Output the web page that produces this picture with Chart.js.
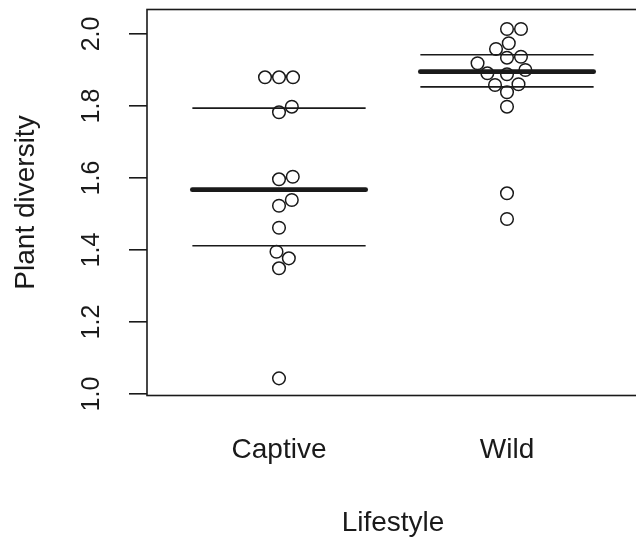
<!DOCTYPE html>
<html>
<head>
<meta charset="utf-8">
<title>Plant diversity by lifestyle</title>
<script src="https://cdn.jsdelivr.net/npm/chart.js@4/dist/chart.umd.min.js"></script>
<style>
  html, body { margin: 0; padding: 0; background: #fff; overflow: hidden; }
  #clip { width: 636px; height: 541px; overflow: hidden; }
  #wrap { width: 640px; height: 541px; }
</style>
</head>
<body>
<div id="clip"><div id="wrap"><canvas id="stripChart" width="640" height="541"></canvas></div></div>
<script>
var groups = ['Captive', 'Wild'];
// values in recorded order (the swarm places them in this order)
var captive = [1.0436, 1.3492, 1.3769, 1.3953, 1.4619, 1.5231, 1.5389, 1.5964, 1.6036, 1.7825, 1.7981, 1.8797, 1.8797, 1.8797];
var wild = [1.8881, 1.9342, 1.7981, 1.8381, 1.5575, 1.4861, 1.8603, 1.8583, 1.8908, 1.9369, 1.9000, 1.9186, 1.9583, 1.9742, 2.0139, 2.0139];
var yTicks = [1.0, 1.2, 1.4, 1.6, 1.8, 2.0];
var yTickLabels = ['1.0', '1.2', '1.4', '1.6', '1.8', '2.0'];

var FONT = '"Liberation Sans", Arial, Helvetica, sans-serif';
var INK = '#1a1a1a';
var HALF = 0.38; // half width of the median / quartile bars

// R's default quantile (type 7)
function quantile(vals, p) {
  var s = vals.slice().sort(function (a, b) { return a - b; });
  var h = (s.length - 1) * p;
  var lo = Math.floor(h);
  return s[lo] + (h - lo) * ((s[Math.min(lo + 1, s.length - 1)]) - s[lo]);
}

// beeswarm "swarm" layout, points placed in data order; returns pixel offsets
function swarm(vals, yScale, size) {
  var placed = [];
  return vals.map(function (v) {
    var xi = yScale.getPixelForValue(v) / size;
    var pre = placed.filter(function (p) { return Math.abs(xi - p.x) < 1; });
    var cand = [0];
    pre.forEach(function (p) { cand.push(p.y + Math.sqrt(1 - Math.pow(xi - p.x, 2))); });
    pre.forEach(function (p) { cand.push(p.y - Math.sqrt(1 - Math.pow(xi - p.x, 2))); });
    var best = Infinity;
    cand.forEach(function (c) {
      var bad = pre.some(function (p) {
        return Math.pow(xi - p.x, 2) + Math.pow(c - p.y, 2) < 0.999;
      });
      if (!bad && Math.abs(c) < Math.abs(best)) best = c;
    });
    placed.push({ x: xi, y: best });
    return best * size;
  });
}

function barLine(g, q, width) {
  return {
    type: 'line',
    data: [{ x: g - HALF, y: q }, { x: g + HALF, y: q }],
    borderColor: INK,
    borderWidth: width,
    borderCapStyle: width > 2 ? 'round' : 'butt',
    pointRadius: 0,
    fill: false
  };
}

var series = [captive, wild];
var datasets = [];
series.forEach(function (vals, i) {
  datasets.push({
    type: 'scatter',
    label: groups[i],
    data: vals.map(function (v) { return { x: i + 1, y: v }; }),
    pointRadius: 6.3,
    pointBorderWidth: 1.5,
    pointBorderColor: INK,
    pointBackgroundColor: 'rgba(0,0,0,0)'
  });
});
series.forEach(function (vals, i) {
  datasets.push(barLine(i + 1, quantile(vals, 0.25), 1.6));
  datasets.push(barLine(i + 1, quantile(vals, 0.5), 4.8));
  datasets.push(barLine(i + 1, quantile(vals, 0.75), 1.6));
});

var boxPlugin = {
  id: 'box',
  afterDraw: function (chart) {
    var a = chart.chartArea, ctx = chart.ctx;
    ctx.save();
    ctx.strokeStyle = INK;
    ctx.lineWidth = 1.6;
    ctx.strokeRect(a.left, a.top, a.right - a.left, a.bottom - a.top);
    ctx.restore();
  }
};

var yLabelPlugin = {
  id: 'yLabels',
  afterDraw: function (chart) {
    var ctx = chart.ctx, ys = chart.scales.y;
    ctx.save();
    ctx.font = '25px ' + FONT;
    ctx.fillStyle = INK;
    ctx.textAlign = 'center';
    ctx.textBaseline = 'middle';
    yTicks.forEach(function (v, i) {
      ctx.save();
      ctx.translate(chart.chartArea.left - 55, ys.getPixelForValue(v));
      ctx.rotate(-Math.PI / 2);
      ctx.fillText(yTickLabels[i], 0, 0);
      ctx.restore();
    });
    ctx.restore();
  }
};

var ctx = document.getElementById('stripChart').getContext('2d');
var stripChart = new Chart(ctx, {
  data: { datasets: datasets },
  options: {
    responsive: false,
    maintainAspectRatio: false,
    animation: false,
    layout: { autoPadding: false, padding: { top: 9.5, right: 1, left: 0, bottom: 0 } },
    plugins: { legend: { display: false }, tooltip: { enabled: false } },
    scales: {
      x: {
        type: 'linear',
        min: 0.421,
        max: 2.579,
        afterFit: function (scale) {
          scale.height = 145.5;
          scale.paddingLeft = 0;
          scale.paddingRight = 0;
        },
        afterBuildTicks: function (scale) {
          scale.ticks = groups.map(function (g, i) { return { value: i + 1 }; });
        },
        ticks: {
          padding: 38,
          color: INK,
          font: { family: FONT, size: 28 },
          callback: function (v) { return groups[v - 1]; }
        },
        grid: { display: false, drawTicks: false },
        border: { display: false },
        title: {
          display: true,
          text: 'Lifestyle',
          color: INK,
          font: { family: FONT, size: 28 },
          padding: { top: 0, bottom: 1 }
        }
      },
      y: {
        type: 'linear',
        min: 0.996,
        max: 2.068,
        afterFit: function (scale) {
          scale.width = 147;
          scale.paddingTop = 0;
          scale.paddingBottom = 0;
        },
        afterBuildTicks: function (scale) {
          scale.ticks = yTicks.map(function (v) { return { value: v }; });
        },
        ticks: { display: false },
        grid: {
          drawOnChartArea: false,
          drawTicks: true,
          tickLength: 18,
          color: INK,
          lineWidth: 1.6
        },
        border: { display: false },
        title: {
          display: true,
          text: 'Plant diversity',
          color: INK,
          font: { family: FONT, size: 28 },
          padding: { top: 9, bottom: 0 }
        }
      }
    }
  },
  plugins: [boxPlugin, yLabelPlugin]
});

// spread the points like beeswarm, using the laid-out scales
var xs = stripChart.scales.x, yScale = stripChart.scales.y;
var pxPerUnit = xs.getPixelForValue(1) - xs.getPixelForValue(0);
series.forEach(function (vals, i) {
  var off = swarm(vals, yScale, 14);
  stripChart.data.datasets[i].data = vals.map(function (v, k) {
    return { x: i + 1 + off[k] / pxPerUnit, y: v };
  });
});
stripChart.update('none');
</script>
</body>
</html>
